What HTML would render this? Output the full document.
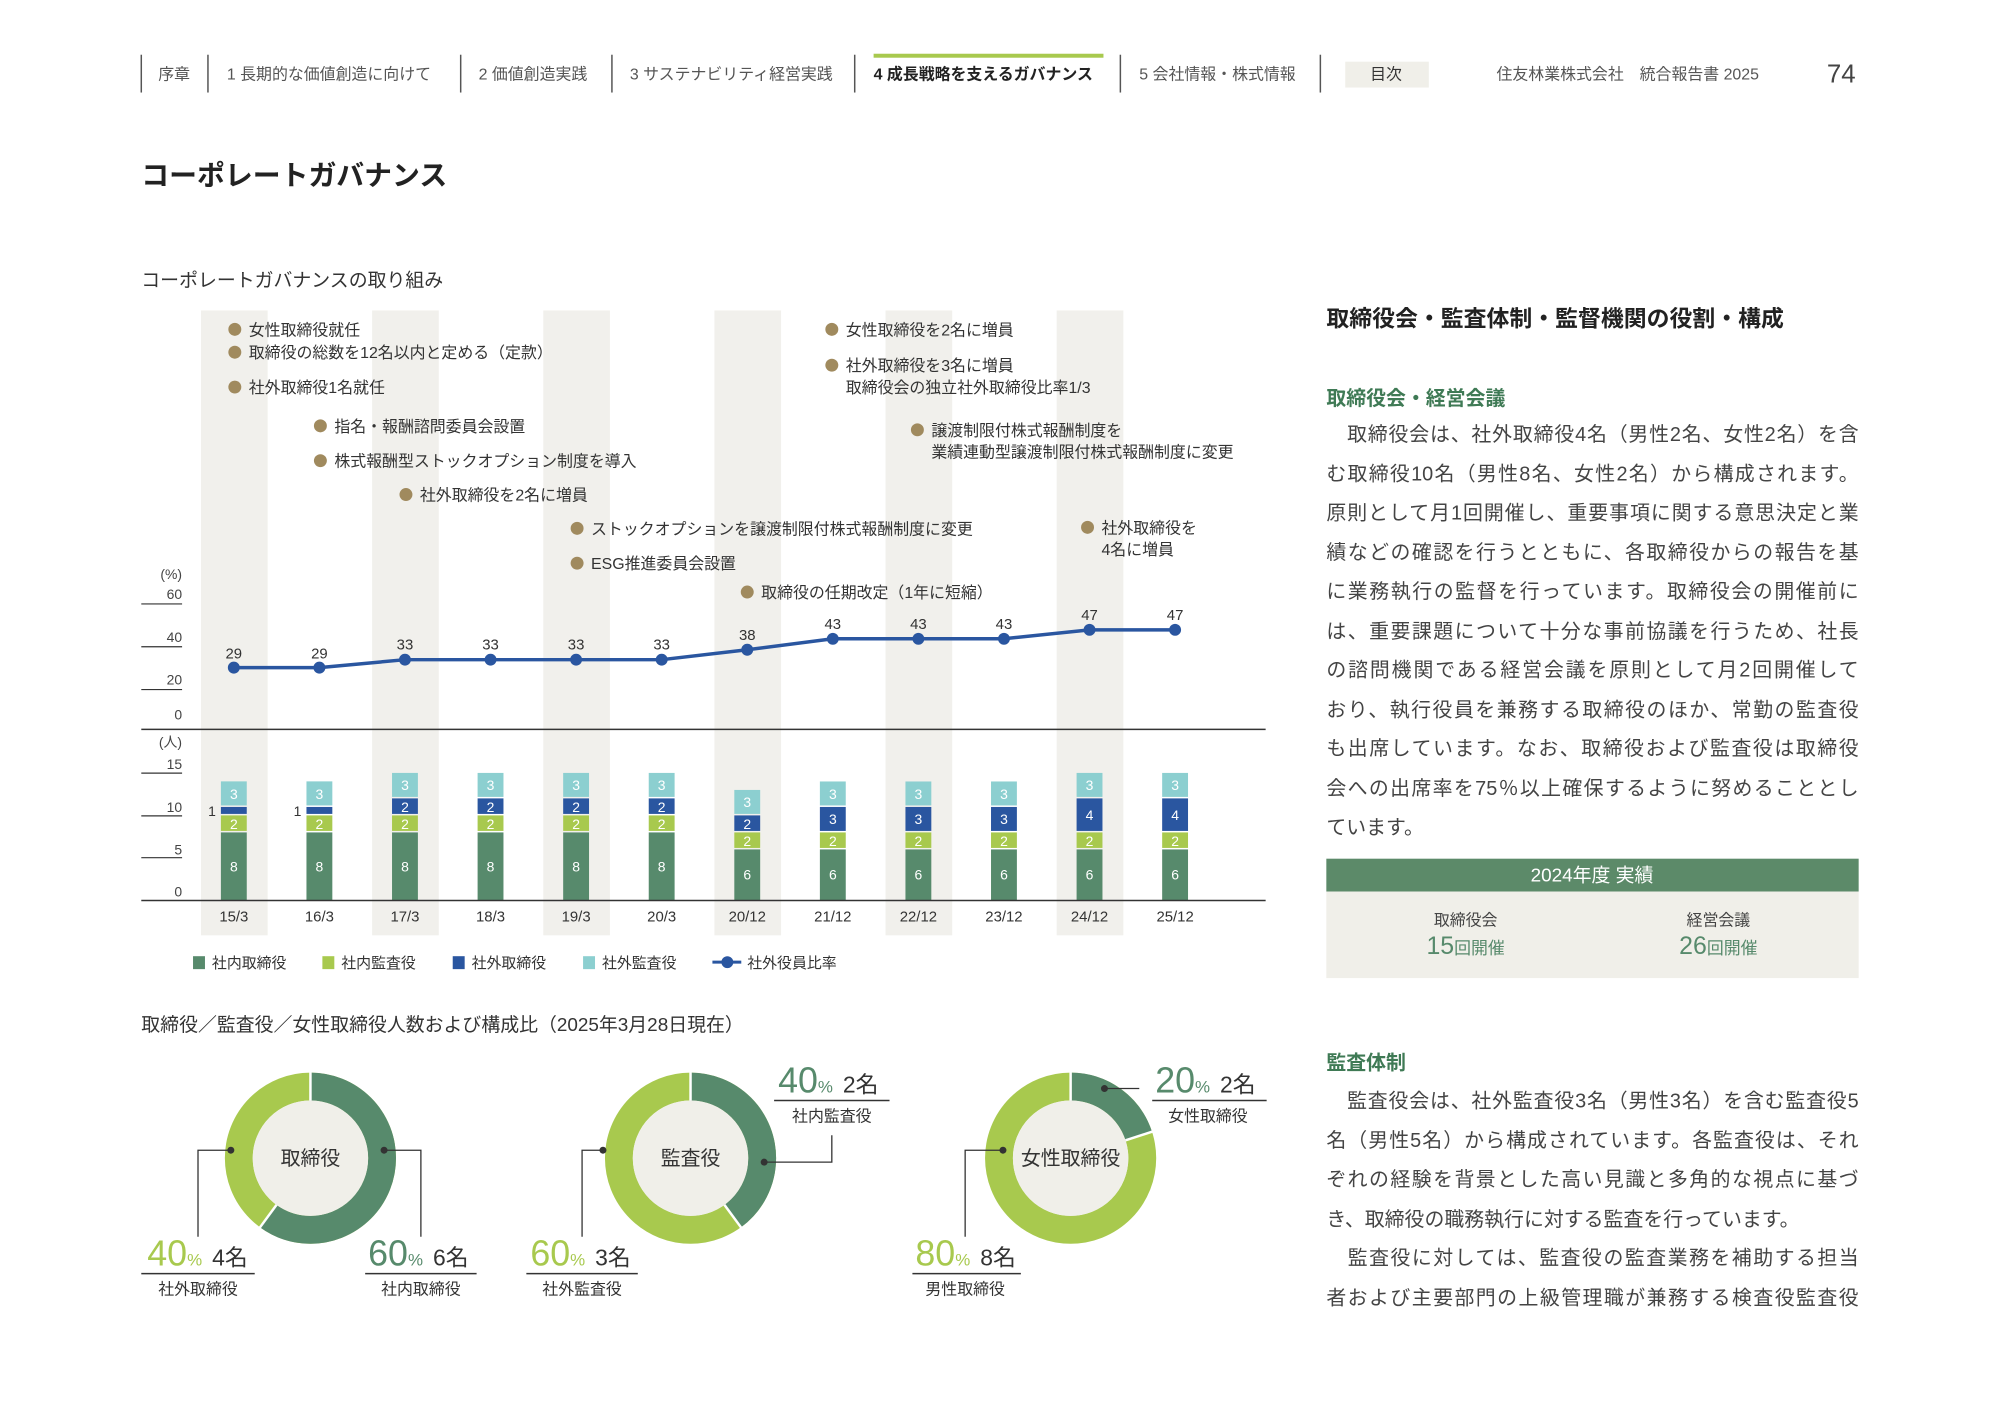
<!DOCTYPE html>
<html><head><meta charset="utf-8">
<style>
body{margin:0;background:#fff;}
#w{width:2000px;height:1415px;overflow:hidden;position:relative;}
#p{position:absolute;left:0;top:0;width:2000px;height:1415px;transform:scale(0.995);transform-origin:0 0;font-family:"Liberation Sans","Noto Sans CJK JP",sans-serif;color:#333;}
.body{position:absolute;left:1333px;width:535px;font-size:20px;color:#444;}
.body div{height:39.5px;line-height:39.5px;text-align:justify;text-align-last:justify;white-space:nowrap;}
.body div.l{text-align-last:left;}
</style></head><body><div id="w"><div id="p">
<svg width="2000" height="1415" style="position:absolute;left:0;top:0" font-family="Liberation Sans, Noto Sans CJK JP, sans-serif">
<g stroke="#555" stroke-width="1.5">
<line x1="142" y1="55" x2="142" y2="93"/><line x1="209" y1="55" x2="209" y2="93"/><line x1="463" y1="55" x2="463" y2="93"/><line x1="615" y1="55" x2="615" y2="93"/><line x1="859" y1="55" x2="859" y2="93"/><line x1="1126" y1="55" x2="1126" y2="93"/><line x1="1327" y1="55" x2="1327" y2="93"/>
</g>
<rect x="878" y="54" width="231" height="4" fill="#a8c94e"/>
<rect x="1352" y="62" width="84" height="26" fill="#f0efe9"/>
<g font-size="16" fill="#555">
<text x="159" y="80">序章</text>
<text x="228" y="80">1 長期的な価値創造に向けて</text>
<text x="481" y="80">2 価値創造実践</text>
<text x="633" y="80">3 サステナビリティ経営実践</text>
<text x="878" y="80" font-weight="bold" fill="#222">4 成長戦略を支えるガバナンス</text>
<text x="1145" y="80">5 会社情報・株式情報</text>
<text x="1377" y="80" fill="#333">目次</text>
<text x="1504" y="80">住友林業株式会社　統合報告書 2025</text>
</g>
<text x="1836" y="83" font-size="26" fill="#444">74</text>
<text x="142" y="186" font-size="28" font-weight="bold" fill="#222">コーポレートガバナンス</text>
<text x="142" y="288" font-size="19" fill="#333">コーポレートガバナンスの取り組み</text>

<g fill="#f1f0ec">
<rect x="202" y="312" width="67" height="628"/><rect x="374" y="312" width="67" height="628"/><rect x="546" y="312" width="67" height="628"/><rect x="718" y="312" width="67" height="628"/><rect x="890" y="312" width="67" height="628"/><rect x="1062" y="312" width="67" height="628"/>
</g>

<g font-size="16" fill="#333">
<g fill="#a08a5e"><circle cx="236" cy="331" r="6.5"/><circle cx="236" cy="354" r="6.5"/><circle cx="236" cy="389" r="6.5"/><circle cx="322" cy="428" r="6.5"/><circle cx="322" cy="463" r="6.5"/><circle cx="408" cy="497" r="6.5"/><circle cx="580" cy="531" r="6.5"/><circle cx="580" cy="566" r="6.5"/><circle cx="751" cy="595" r="6.5"/><circle cx="836" cy="331" r="6.5"/><circle cx="836" cy="367" r="6.5"/><circle cx="922" cy="432" r="6.5"/><circle cx="1093" cy="530" r="6.5"/></g>
<text x="250" y="337">女性取締役就任</text>
<text x="250" y="360">取締役の総数を12名以内と定める（定款）</text>
<text x="250" y="395">社外取締役1名就任</text>
<text x="336" y="434">指名・報酬諮問委員会設置</text>
<text x="336" y="469">株式報酬型ストックオプション制度を導入</text>
<text x="422" y="503">社外取締役を2名に増員</text>
<text x="594" y="537">ストックオプションを譲渡制限付株式報酬制度に変更</text>
<text x="594" y="572">ESG推進委員会設置</text>
<text x="765" y="601">取締役の任期改定（1年に短縮）</text>
<text x="850" y="337">女性取締役を2名に増員</text>
<text x="850" y="373">社外取締役を3名に増員</text>
<text x="850" y="395">取締役会の独立社外取締役比率1/3</text>
<text x="936" y="438">譲渡制限付株式報酬制度を</text>
<text x="936" y="460">業績連動型譲渡制限付株式報酬制度に変更</text>
<text x="1107" y="536">社外取締役を</text>
<text x="1107" y="558">4名に増員</text>
</g>

<g font-size="14" fill="#444" text-anchor="end">
<text x="183" y="582">(%)</text>
<text x="183" y="602">60</text><text x="183" y="645">40</text><text x="183" y="688">20</text><text x="183" y="723">0</text>
</g>
<g stroke="#333" stroke-width="1.2"><line x1="142" y1="607" x2="183" y2="607"/><line x1="142" y1="650" x2="183" y2="650"/><line x1="142" y1="693" x2="183" y2="693"/></g>
<line x1="142" y1="733" x2="1272" y2="733" stroke="#333" stroke-width="1.5"/>
<polyline fill="none" stroke="#2a56a0" stroke-width="3.5" points="235,671 321,671 407,663 493,663 579,663 665,663 751,653 837,642 923,642 1009,642 1095,633 1181,633"/>
<g fill="#2a56a0"><circle cx="235" cy="671" r="6"/><circle cx="321" cy="671" r="6"/><circle cx="407" cy="663" r="6"/><circle cx="493" cy="663" r="6"/><circle cx="579" cy="663" r="6"/><circle cx="665" cy="663" r="6"/><circle cx="751" cy="653" r="6"/><circle cx="837" cy="642" r="6"/><circle cx="923" cy="642" r="6"/><circle cx="1009" cy="642" r="6"/><circle cx="1095" cy="633" r="6"/><circle cx="1181" cy="633" r="6"/></g>
<g font-size="15" fill="#333" text-anchor="middle">
<text x="235" y="662">29</text><text x="321" y="662">29</text><text x="407" y="653">33</text><text x="493" y="653">33</text><text x="579" y="653">33</text><text x="665" y="653">33</text><text x="751" y="643">38</text><text x="837" y="632">43</text><text x="923" y="632">43</text><text x="1009" y="632">43</text><text x="1095" y="623">47</text><text x="1181" y="623">47</text>
</g>

<g font-size="14" fill="#444" text-anchor="end">
<text x="183" y="751">(人)</text>
<text x="183" y="773">15</text><text x="183" y="816">10</text><text x="183" y="859">5</text><text x="183" y="901">0</text>
</g>
<g stroke="#333" stroke-width="1.2"><line x1="142" y1="777" x2="183" y2="777"/><line x1="142" y1="820" x2="183" y2="820"/><line x1="142" y1="862" x2="183" y2="862"/></g>

<g font-size="14" fill="#fff" text-anchor="middle">
<g transform="translate(235,0)"><rect x="-13" y="836.6" width="26" height="68.4" fill="#578a6c"/><rect x="-13" y="819.5" width="26" height="15.6" fill="#a8c94e"/><rect x="-13" y="811" width="26" height="7" fill="#2a56a0"/><rect x="-13" y="785.3" width="26" height="24.2" fill="#8ccfd0"/><text y="876">8</text><text y="833">2</text><text y="803">3</text><text x="-22" y="820" fill="#333">1</text></g>
<g transform="translate(321,0)"><rect x="-13" y="836.6" width="26" height="68.4" fill="#578a6c"/><rect x="-13" y="819.5" width="26" height="15.6" fill="#a8c94e"/><rect x="-13" y="811" width="26" height="7" fill="#2a56a0"/><rect x="-13" y="785.3" width="26" height="24.2" fill="#8ccfd0"/><text y="876">8</text><text y="833">2</text><text y="803">3</text><text x="-22" y="820" fill="#333">1</text></g>
<g transform="translate(407,0)"><rect x="-13" y="836.6" width="26" height="68.4" fill="#578a6c"/><rect x="-13" y="819.5" width="26" height="15.6" fill="#a8c94e"/><rect x="-13" y="802.4" width="26" height="15.6" fill="#2a56a0"/><rect x="-13" y="776.8" width="26" height="24.1" fill="#8ccfd0"/><text y="876">8</text><text y="833">2</text><text y="816">2</text><text y="794">3</text></g>
<g transform="translate(493,0)"><rect x="-13" y="836.6" width="26" height="68.4" fill="#578a6c"/><rect x="-13" y="819.5" width="26" height="15.6" fill="#a8c94e"/><rect x="-13" y="802.4" width="26" height="15.6" fill="#2a56a0"/><rect x="-13" y="776.8" width="26" height="24.1" fill="#8ccfd0"/><text y="876">8</text><text y="833">2</text><text y="816">2</text><text y="794">3</text></g>
<g transform="translate(579,0)"><rect x="-13" y="836.6" width="26" height="68.4" fill="#578a6c"/><rect x="-13" y="819.5" width="26" height="15.6" fill="#a8c94e"/><rect x="-13" y="802.4" width="26" height="15.6" fill="#2a56a0"/><rect x="-13" y="776.8" width="26" height="24.1" fill="#8ccfd0"/><text y="876">8</text><text y="833">2</text><text y="816">2</text><text y="794">3</text></g>
<g transform="translate(665,0)"><rect x="-13" y="836.6" width="26" height="68.4" fill="#578a6c"/><rect x="-13" y="819.5" width="26" height="15.6" fill="#a8c94e"/><rect x="-13" y="802.4" width="26" height="15.6" fill="#2a56a0"/><rect x="-13" y="776.8" width="26" height="24.1" fill="#8ccfd0"/><text y="876">8</text><text y="833">2</text><text y="816">2</text><text y="794">3</text></g>
<g transform="translate(751,0)"><rect x="-13" y="853.7" width="26" height="51.3" fill="#578a6c"/><rect x="-13" y="836.6" width="26" height="15.6" fill="#a8c94e"/><rect x="-13" y="819.5" width="26" height="15.6" fill="#2a56a0"/><rect x="-13" y="793.9" width="26" height="24.1" fill="#8ccfd0"/><text y="884">6</text><text y="850">2</text><text y="833">2</text><text y="811">3</text></g>
<g transform="translate(837,0)"><rect x="-13" y="853.7" width="26" height="51.3" fill="#578a6c"/><rect x="-13" y="836.6" width="26" height="15.6" fill="#a8c94e"/><rect x="-13" y="811" width="26" height="24.1" fill="#2a56a0"/><rect x="-13" y="785.4" width="26" height="24.1" fill="#8ccfd0"/><text y="884">6</text><text y="850">2</text><text y="828">3</text><text y="803">3</text></g>
<g transform="translate(923,0)"><rect x="-13" y="853.7" width="26" height="51.3" fill="#578a6c"/><rect x="-13" y="836.6" width="26" height="15.6" fill="#a8c94e"/><rect x="-13" y="811" width="26" height="24.1" fill="#2a56a0"/><rect x="-13" y="785.4" width="26" height="24.1" fill="#8ccfd0"/><text y="884">6</text><text y="850">2</text><text y="828">3</text><text y="803">3</text></g>
<g transform="translate(1009,0)"><rect x="-13" y="853.7" width="26" height="51.3" fill="#578a6c"/><rect x="-13" y="836.6" width="26" height="15.6" fill="#a8c94e"/><rect x="-13" y="811" width="26" height="24.1" fill="#2a56a0"/><rect x="-13" y="785.4" width="26" height="24.1" fill="#8ccfd0"/><text y="884">6</text><text y="850">2</text><text y="828">3</text><text y="803">3</text></g>
<g transform="translate(1095,0)"><rect x="-13" y="853.7" width="26" height="51.3" fill="#578a6c"/><rect x="-13" y="836.6" width="26" height="15.6" fill="#a8c94e"/><rect x="-13" y="802.4" width="26" height="32.7" fill="#2a56a0"/><rect x="-13" y="776.8" width="26" height="24.1" fill="#8ccfd0"/><text y="884">6</text><text y="850">2</text><text y="824">4</text><text y="794">3</text></g>
<g transform="translate(1181,0)"><rect x="-13" y="853.7" width="26" height="51.3" fill="#578a6c"/><rect x="-13" y="836.6" width="26" height="15.6" fill="#a8c94e"/><rect x="-13" y="802.4" width="26" height="32.7" fill="#2a56a0"/><rect x="-13" y="776.8" width="26" height="24.1" fill="#8ccfd0"/><text y="884">6</text><text y="850">2</text><text y="824">4</text><text y="794">3</text></g>
</g>
<line x1="142" y1="905" x2="1272" y2="905" stroke="#333" stroke-width="1.5"/>
<g font-size="15" fill="#333" text-anchor="middle">
<text x="235" y="926">15/3</text><text x="321" y="926">16/3</text><text x="407" y="926">17/3</text><text x="493" y="926">18/3</text><text x="579" y="926">19/3</text><text x="665" y="926">20/3</text><text x="751" y="926">20/12</text><text x="837" y="926">21/12</text><text x="923" y="926">22/12</text><text x="1009" y="926">23/12</text><text x="1095" y="926">24/12</text><text x="1181" y="926">25/12</text>
</g>
<g font-size="15" fill="#333">
<rect x="194" y="961" width="12" height="13" fill="#578a6c"/><text x="213" y="973">社内取締役</text>
<rect x="324" y="961" width="12" height="13" fill="#a8c94e"/><text x="343" y="973">社内監査役</text>
<rect x="455" y="961" width="12" height="13" fill="#2a56a0"/><text x="474" y="973">社外取締役</text>
<rect x="586" y="961" width="12" height="13" fill="#8ccfd0"/><text x="605" y="973">社外監査役</text>
<line x1="716" y1="967" x2="745" y2="967" stroke="#2a56a0" stroke-width="3"/><circle cx="731" cy="967" r="6" fill="#2a56a0"/><text x="751" y="973">社外役員比率</text>
</g>

<text x="142" y="1036" font-size="19" fill="#333">取締役／監査役／女性取締役人数および構成比（2025年3月28日現在）</text>

<g fill="none" stroke-width="28">
<g transform="translate(312,1164) rotate(-90)"><circle r="72" stroke="#a8c94e"/><circle r="72" stroke="#578a6c" stroke-dasharray="271.4 500"/></g>
<g transform="translate(694,1164) rotate(-90)"><circle r="72" stroke="#a8c94e"/><circle r="72" stroke="#578a6c" stroke-dasharray="181 500"/></g>
<g transform="translate(1076,1164) rotate(-90)"><circle r="72" stroke="#a8c94e"/><circle r="72" stroke="#578a6c" stroke-dasharray="90.5 500"/></g>
</g>
<g fill="#f0efe9"><circle cx="312" cy="1164" r="58"/><circle cx="694" cy="1164" r="58"/><circle cx="1076" cy="1164" r="58"/></g>
<g stroke="#fff" stroke-width="2.5">
<line x1="312" y1="1106" x2="312" y2="1076"/><line x1="277.9" y1="1210.9" x2="260.5" y2="1234.6"/>
<line x1="694" y1="1106" x2="694" y2="1076"/><line x1="728.1" y1="1210.9" x2="745.5" y2="1234.6"/>
<line x1="1076" y1="1106" x2="1076" y2="1076"/><line x1="1131.2" y1="1146.1" x2="1159.8" y2="1136.8"/>
</g>
<g font-size="20" fill="#333" text-anchor="middle"><text x="312" y="1171">取締役</text><text x="694" y="1171">監査役</text><text x="1076" y="1171">女性取締役</text></g>
<g stroke="#333" stroke-width="1.3" fill="none">
<polyline points="232,1156 199,1156 199,1243"/><polyline points="386,1156 423,1156 423,1243"/>
<polyline points="606,1156 585,1156 585,1243"/><polyline points="768,1168 836,1168 836,1141"/>
<polyline points="1110,1094 1145,1094"/><polyline points="1008,1156 970,1156 970,1243"/>
</g>
<g fill="#333"><circle cx="232" cy="1156" r="3.5"/><circle cx="386" cy="1156" r="3.5"/><circle cx="606" cy="1156" r="3.5"/><circle cx="768" cy="1168" r="3.5"/><circle cx="1110" cy="1094" r="3.5"/><circle cx="1008" cy="1156" r="3.5"/></g>
<g fill="#333">
<text x="148" y="1272" font-size="36" fill="#a8c94e">40<tspan font-size="17">%</tspan> <tspan font-size="23" fill="#333">4名</tspan></text>
<text x="370" y="1272" font-size="36" fill="#578a6c">60<tspan font-size="17">%</tspan> <tspan font-size="23" fill="#333">6名</tspan></text>
<text x="533" y="1272" font-size="36" fill="#a8c94e">60<tspan font-size="17">%</tspan> <tspan font-size="23" fill="#333">3名</tspan></text>
<text x="782" y="1098" font-size="36" fill="#578a6c">40<tspan font-size="17">%</tspan> <tspan font-size="23" fill="#333">2名</tspan></text>
<text x="1161" y="1098" font-size="36" fill="#578a6c">20<tspan font-size="17">%</tspan> <tspan font-size="23" fill="#333">2名</tspan></text>
<text x="920" y="1272" font-size="36" fill="#a8c94e">80<tspan font-size="17">%</tspan> <tspan font-size="23" fill="#333">8名</tspan></text>
</g>
<g stroke="#333" stroke-width="1.5">
<line x1="142" y1="1280" x2="256" y2="1280"/><line x1="367" y1="1280" x2="479" y2="1280"/><line x1="529" y1="1280" x2="641" y2="1280"/><line x1="778" y1="1106" x2="894" y2="1106"/><line x1="1158" y1="1106" x2="1273" y2="1106"/><line x1="917" y1="1280" x2="1026" y2="1280"/>
</g>
<g font-size="16" fill="#333" text-anchor="middle">
<text x="199" y="1301">社外取締役</text><text x="423" y="1301">社内取締役</text><text x="585" y="1301">社外監査役</text><text x="836" y="1127">社内監査役</text><text x="1214" y="1127">女性取締役</text><text x="970" y="1301">男性取締役</text>
</g>

<text x="1333" y="328" font-size="23" font-weight="bold" fill="#222">取締役会・監査体制・監督機関の役割・構成</text>
<text x="1333" y="407" font-size="20" font-weight="bold" fill="#3f7a55">取締役会・経営会議</text>
<rect x="1333" y="863" width="535" height="33" fill="#5c8a69"/>
<rect x="1333" y="896" width="535" height="87" fill="#f0efe9"/>
<text x="1600" y="886" font-size="19" fill="#fff" text-anchor="middle">2024年度 実績</text>
<g text-anchor="middle"><text x="1473" y="930" font-size="16" fill="#444">取締役会</text><text x="1727" y="930" font-size="16" fill="#444">経営会議</text>
<text x="1473" y="959" font-size="25" fill="#578a6c">15<tspan font-size="17">回開催</tspan></text>
<text x="1727" y="959" font-size="25" fill="#578a6c">26<tspan font-size="17">回開催</tspan></text></g>
<text x="1333" y="1075" font-size="20" font-weight="bold" fill="#3f7a55">監査体制</text>
</svg>

<div class="body" style="top:418px">
<div>　取締役会は、社外取締役4名（男性2名、女性2名）を含</div>
<div>む取締役10名（男性8名、女性2名）から構成されます。</div>
<div>原則として月1回開催し、重要事項に関する意思決定と業</div>
<div>績などの確認を行うとともに、各取締役からの報告を基</div>
<div>に業務執行の監督を行っています。取締役会の開催前に</div>
<div>は、重要課題について十分な事前協議を行うため、社長</div>
<div>の諮問機関である経営会議を原則として月2回開催して</div>
<div>おり、執行役員を兼務する取締役のほか、常勤の監査役</div>
<div>も出席しています。なお、取締役および監査役は取締役</div>
<div>会への出席率を75％以上確保するように努めることとし</div>
<div class="l">ています。</div>
</div>
<div class="body" style="top:1088px">
<div>　監査役会は、社外監査役3名（男性3名）を含む監査役5</div>
<div>名（男性5名）から構成されています。各監査役は、それ</div>
<div>ぞれの経験を背景とした高い見識と多角的な視点に基づ</div>
<div class="l">き、取締役の職務執行に対する監査を行っています。</div>
<div>　監査役に対しては、監査役の監査業務を補助する担当</div>
<div>者および主要部門の上級管理職が兼務する検査役監査役</div>
</div>
</div></div></body></html>
